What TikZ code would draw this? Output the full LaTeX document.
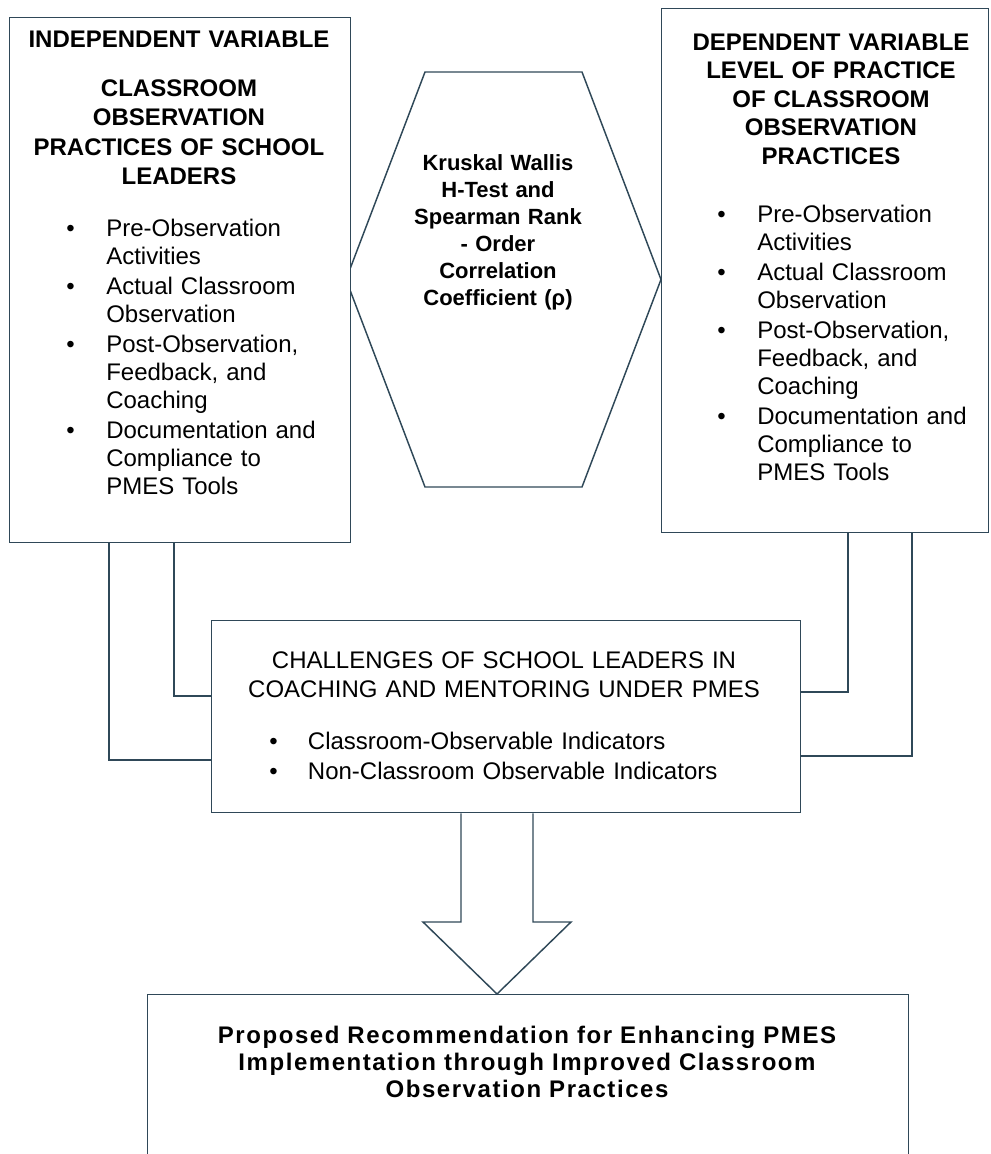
\documentclass[tikz,border=0pt]{standalone}
\usepackage{fontspec}
\setmainfont{Liberation Sans}
\definecolor{edge}{HTML}{2F4858}
\newcommand{\bitem}[2][30pt]{\noindent\hangindent=#1\hangafter=1\makebox[#1][l]{\textbullet}#2\par\vskip1.5pt}

\begin{document}
\begin{tikzpicture}[x=0.75pt, y=-0.75pt,
    frame/.style={draw=edge, line width=1.1pt, fill=white, inner sep=0pt, anchor=north west},
    head/.style={font=\fontsize{18pt}{21.4pt}\selectfont\bfseries, text width=#1, align=center, inner sep=0pt, anchor=base},
    bullets/.style={font=\fontsize{18pt}{21pt}\selectfont, text width=#1, align=left, inner sep=0pt, anchor=base west},
    link/.style={draw=edge, line width=1.1pt}]
    \clip (0,0) rectangle (990,1154);

    % hexagon
    \draw[link] (346,279.5) -- (425,72) -- (582,72) -- (661,279.5) -- (582,487) -- (425,487) -- cycle;
    \node[font=\fontsize{16.5pt}{20.25pt}\selectfont\bfseries, text width=150pt, align=center, inner sep=0pt, anchor=base] (hexa) at (498,170)
        {Kruskal Wallis\\H-Test and\\Spearman Rank\\- Order\\Correlation\\Coefficient (ρ)};

    \node[frame, minimum width=255.75pt, minimum height=393.75pt] (indep) at (9,17) {};
    \node[frame, minimum width=245.25pt, minimum height=393pt] (dep) at (661,8) {};
    \node[frame, minimum width=441.75pt, minimum height=144pt] (challenge) at (211,620) {};
    \node[frame, minimum width=570.75pt, minimum height=150pt] (recommend) at (147,994) {};

    \node[head=247pt] (indeptitle) at (179,47) {INDEPENDENT VARIABLE};
    \node[head=247pt, font=\fontsize{18pt}{22.2pt}\selectfont\bfseries] (indepname) at (179,96) {CLASSROOM\\OBSERVATION\\PRACTICES OF SCHOOL\\LEADERS};
    \node[bullets=205pt] (indeplist) at (66,236)
        {\bitem{Pre-Observation\newline Activities}
         \bitem{Actual Classroom\newline Observation}
         \bitem{Post-Observation,\newline Feedback, and\newline Coaching}
         \bitem{Documentation and\newline Compliance to\newline PMES Tools}};

    \node[head=240pt] (depname) at (831,50) {DEPENDENT VARIABLE\\LEVEL OF PRACTICE\\OF CLASSROOM\\OBSERVATION\\PRACTICES};
    \node[bullets=205pt] (deplist) at (717,222)
        {\bitem{Pre-Observation\newline Activities}
         \bitem{Actual Classroom\newline Observation}
         \bitem{Post-Observation,\newline Feedback, and\newline Coaching}
         \bitem{Documentation and\newline Compliance to\newline PMES Tools}};

    \node[font=\fontsize{18pt}{21.75pt}\selectfont, text width=420pt, align=center, inner sep=0pt, anchor=base] (challname) at (504,668)
        {CHALLENGES OF SCHOOL LEADERS IN\\COACHING AND MENTORING UNDER PMES};
    \node[bullets=360pt, font=\fontsize{18pt}{21pt}\selectfont] (challlist) at (269,749)
        {\bitem[29pt]{Classroom-Observable Indicators}
         \bitem[29pt]{Non-Classroom Observable Indicators}};

    \node[font=\fontsize{18pt}{20.6pt}\selectfont\bfseries\addfontfeature{LetterSpace=6.5}, text width=525pt, align=center, inner sep=0pt, anchor=base] (recname) at (527,1043)
        {Proposed Recommendation for Enhancing PMES\\Implementation through Improved Classroom\\Observation Practices};

    \coordinate (lout) at (109,760);
    \coordinate (lin) at (174,696);
    \coordinate (rin) at (848,692);
    \coordinate (rout) at (912,756);
    \draw[link] (indep.south -| lout) |- (challenge.west |- lout);
    \draw[link] (indep.south -| lin) |- (challenge.west |- lin);
    \draw[link] (dep.south -| rin) |- (challenge.east |- rin);
    \draw[link] (dep.south -| rout) |- (challenge.east |- rout);

    \coordinate (shl) at (461,922);
    \coordinate (shr) at (533,922);
    \coordinate (hl) at (423,922);
    \coordinate (hr) at (571,922);
    \coordinate (tip) at (497,994);
    \draw[link] (challenge.south -| shl) -- (shl) -- (hl) -- (tip) -- (hr) -- (shr) -- (challenge.south -| shr);
\end{tikzpicture}
\end{document}
